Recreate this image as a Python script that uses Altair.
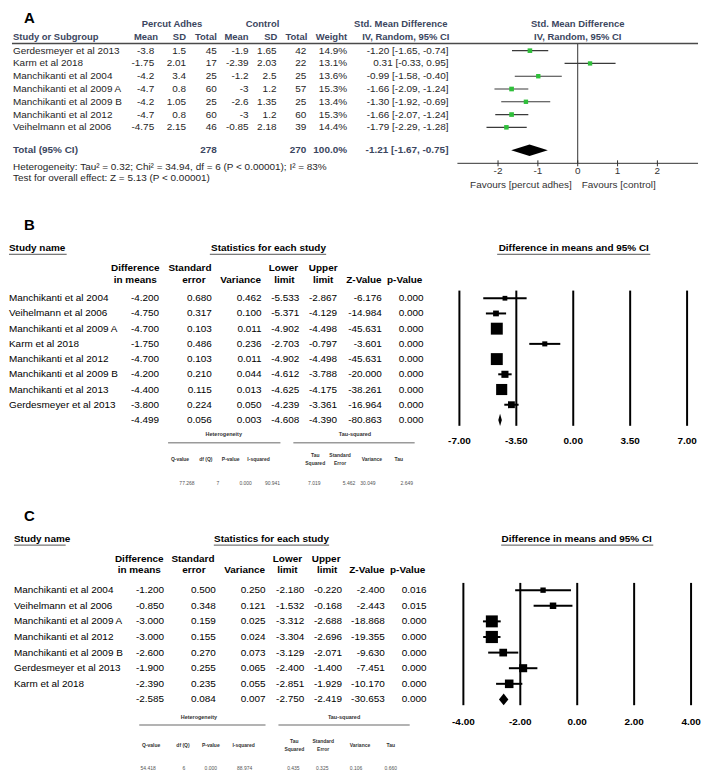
import altair as alt
import pandas as pd

FONT = "Liberation Sans"
W = 694

# ---------------- Panel A values ----------------
a_study = ["Gerdesmeyer et al 2013", "Karm et al 2018", "Manchikanti et al 2004",
           "Manchikanti et al 2009 A", "Manchikanti et al 2009 B", "Manchikanti et al 2012",
           "Veihelmann et al 2006"]
a_exp_mean = [-3.8, -1.75, -4.2, -4.7, -4.2, -4.7, -4.75]
a_exp_sd = [1.5, 2.01, 3.4, 0.8, 1.05, 0.8, 2.15]
a_exp_n = [45, 17, 25, 60, 25, 60, 46]
a_ctl_mean = [-1.9, -2.39, -1.2, -3, -2.6, -3, -0.85]
a_ctl_sd = [1.65, 2.03, 2.5, 1.2, 1.35, 1.2, 2.18]
a_ctl_n = [42, 22, 25, 57, 25, 60, 39]
a_weight = [14.9, 13.1, 13.6, 15.3, 13.4, 15.3, 14.4]
a_smd = [-1.20, 0.31, -0.99, -1.66, -1.30, -1.66, -1.79]
a_lo = [-1.65, -0.33, -1.58, -2.09, -1.92, -2.07, -2.29]
a_hi = [-0.74, 0.95, -0.40, -1.24, -0.69, -1.24, -1.28]
a_total_n = [278, 270]
a_total_weight = 100.0
a_total_smd = [-1.21, -1.67, -0.75]
a_ticks = [-2, -1, 0, 1, 2]
a_het = "Heterogeneity: Tau\u00b2 = 0.32; Chi\u00b2 = 34.94, df = 6 (P < 0.00001); I\u00b2 = 83%"
a_test = "Test for overall effect: Z = 5.13 (P < 0.00001)"

# ---------------- Panel B values ----------------
b_study = ["Manchikanti et al 2004", "Veihelmann et al 2006", "Manchikanti et al 2009 A",
           "Karm et al 2018", "Manchikanti et al 2012", "Manchikanti et al 2009 B",
           "Manchikanti et al 2013", "Gerdesmeyer et al 2013", ""]
b_diff = [-4.200, -4.750, -4.700, -1.750, -4.700, -4.200, -4.400, -3.800, -4.499]
b_se = [0.680, 0.317, 0.103, 0.486, 0.103, 0.210, 0.115, 0.224, 0.056]
b_var = [0.462, 0.100, 0.011, 0.236, 0.011, 0.044, 0.013, 0.050, 0.003]
b_lo = [-5.533, -5.371, -4.902, -2.703, -4.902, -4.612, -4.625, -4.239, -4.608]
b_hi = [-2.867, -4.129, -4.498, -0.797, -4.498, -3.788, -4.175, -3.361, -4.390]
b_z = [-6.176, -14.984, -45.631, -3.601, -45.631, -20.000, -38.261, -16.964, -80.863]
b_p = [0.000, 0.000, 0.000, 0.000, 0.000, 0.000, 0.000, 0.000, 0.000]
b_het = [77.268, 7, 0.000, 90.941]
b_tau = [7.019, 5.462, 30.049, 2.649]
b_ticks = [-7.0, -3.5, 0.0, 3.5, 7.0]

# ---------------- Panel C values ----------------
c_study = ["Manchikanti et al 2004", "Veihelmann et al 2006", "Manchikanti et al 2009 A",
           "Manchikanti et al 2012", "Manchikanti et al 2009 B", "Gerdesmeyer et al 2013",
           "Karm et al 2018", ""]
c_diff = [-1.200, -0.850, -3.000, -3.000, -2.600, -1.900, -2.390, -2.585]
c_se = [0.500, 0.348, 0.159, 0.155, 0.270, 0.255, 0.235, 0.084]
c_var = [0.250, 0.121, 0.025, 0.024, 0.073, 0.065, 0.055, 0.007]
c_lo = [-2.180, -1.532, -3.312, -3.304, -3.129, -2.400, -2.851, -2.750]
c_hi = [-0.220, -0.168, -2.688, -2.696, -2.071, -1.400, -1.929, -2.419]
c_z = [-2.400, -2.443, -18.868, -19.355, -9.630, -7.451, -10.170, -30.653]
c_p = [0.016, 0.015, 0.000, 0.000, 0.000, 0.000, 0.000, 0.000]
c_het = [54.418, 6, 0.000, 88.974]
c_tau = [0.435, 0.325, 0.106, 0.660]
c_ticks = [-4.0, -2.0, 0.0, 2.0, 4.0]

DUMMY = pd.DataFrame({"d": [0]})


def lab(text, x, y, top, size=10, bold=False, align="left", color="#000",
        baseline="middle"):
    return alt.Chart().mark_text(
        text=text, align=align, baseline=baseline, fontSize=size,
        fontWeight="bold" if bold else "normal", color=color, font=FONT
    ).encode(x=alt.value(x - 8), y=alt.value(y - top))


def hrule(x1, x2, y, top, color="#000", width=1.0):
    return alt.Chart().mark_rule(color=color, strokeWidth=width).encode(
        x=alt.value(x1 - 8), x2=alt.value(x2 - 8), y=alt.value(y - top))


def col(df, field, x, yscale, size=10, bold=False, align="right", color="#000"):
    return alt.Chart(df).mark_text(
        align=align, baseline="middle", fontSize=size,
        fontWeight="bold" if bold else "normal", color=color, font=FONT
    ).encode(x=alt.value(x - 8), y=alt.Y("row:Q", scale=yscale, axis=None),
             text=alt.Text(f"{field}:N"))


# ======================= PANEL A =======================
A_TOP = 8
A_HDR = "#3b4660"
A_TXT = "#262626"
a_row0, a_step = 46.7, 12.85
ay = alt.Scale(domain=[0, 10], range=[a_row0 - A_TOP, a_row0 - A_TOP + 10 * a_step],
               nice=False, zero=False)
ax = alt.Scale(domain=[-3.02, 3.02], range=[458 - 8, 700 - 8], nice=False, zero=False)

fmt_g = lambda v: f"{v:g}"
a_df = pd.DataFrame({
    "row": list(range(len(a_study))),
    "study": a_study,
    "em": [fmt_g(v) for v in a_exp_mean],
    "es": [fmt_g(v) for v in a_exp_sd],
    "en": [str(v) for v in a_exp_n],
    "cm": [fmt_g(v) for v in a_ctl_mean],
    "cs": [fmt_g(v) for v in a_ctl_sd],
    "cn": [str(v) for v in a_ctl_n],
    "wt": [f"{v:.1f}%" for v in a_weight],
    "ci": [f"{m:.2f} [{l:.2f}, {h:.2f}]" for m, l, h in zip(a_smd, a_lo, a_hi)],
    "smd": a_smd, "lo": a_lo, "hi": a_hi, "w": a_weight,
})
a_tot_row = 7.8
a_tot = pd.DataFrame({
    "row": [a_tot_row],
    "study": ["Total (95% CI)"],
    "en": [str(a_total_n[0])], "cn": [str(a_total_n[1])],
    "wt": [f"{a_total_weight:.1f}%"],
    "ci": [f"{a_total_smd[0]:.2f} [{a_total_smd[1]:.2f}, {a_total_smd[2]:.2f}]"],
})
h_a = 0.45
a_dia = pd.DataFrame({
    "x": [a_total_smd[1], a_total_smd[0], a_total_smd[2]],
    "y": [a_tot_row, a_tot_row - h_a, a_tot_row],
    "y2": [a_tot_row, a_tot_row + h_a, a_tot_row],
})
a_tick_df = pd.DataFrame({"t": a_ticks, "lab": [str(t) for t in a_ticks]})
a_zero = pd.DataFrame({"t": [0]})

A_layers = [
    lab("A", 22, 18.5, A_TOP, size=15, bold=True, baseline="alphabetic"),
    lab("Percut Adhes", 171, 19.5, A_TOP, size=9.5, bold=True, align="center", color=A_HDR),
    lab("Control", 262, 19.5, A_TOP, size=9.5, bold=True, align="center", color=A_HDR),
    lab("Std. Mean Difference", 448, 19.5, A_TOP, size=9.5, bold=True, align="right", color=A_HDR),
    lab("Std. Mean Difference", 579, 19.5, A_TOP, size=9.5, bold=True, align="center", color=A_HDR),
    lab("Study or Subgroup", 11, 32.5, A_TOP, size=9.5, bold=True, color=A_HDR),
    lab("Mean", 157, 32.5, A_TOP, size=9.5, bold=True, align="right", color=A_HDR),
    lab("SD", 185, 32.5, A_TOP, size=9.5, bold=True, align="right", color=A_HDR),
    lab("Total", 216, 32.5, A_TOP, size=9.5, bold=True, align="right", color=A_HDR),
    lab("Mean", 248, 32.5, A_TOP, size=9.5, bold=True, align="right", color=A_HDR),
    lab("SD", 277, 32.5, A_TOP, size=9.5, bold=True, align="right", color=A_HDR),
    lab("Total", 307, 32.5, A_TOP, size=9.5, bold=True, align="right", color=A_HDR),
    lab("Weight", 347, 32.5, A_TOP, size=9.5, bold=True, align="right", color=A_HDR),
    lab("IV, Random, 95% CI", 450, 32.5, A_TOP, size=9.5, bold=True, align="right", color=A_HDR),
    lab("IV, Random, 95% CI", 579, 32.5, A_TOP, size=9.5, bold=True, align="center", color=A_HDR),
    hrule(10, 700, 39.5, A_TOP, color="#4a4a4a", width=1.5),
    col(a_df, "study", 11, ay, align="left", color=A_TXT),
    col(a_df, "em", 153, ay, color=A_TXT),
    col(a_df, "es", 185, ay, color=A_TXT),
    col(a_df, "en", 216, ay, color=A_TXT),
    col(a_df, "cm", 248, ay, color=A_TXT),
    col(a_df, "cs", 276, ay, color=A_TXT),
    col(a_df, "cn", 306, ay, color=A_TXT),
    col(a_df, "wt", 347, ay, color=A_TXT),
    col(a_df, "ci", 449, ay, color=A_TXT),
    col(a_tot, "study", 11, ay, align="left", bold=True, color=A_HDR),
    col(a_tot, "en", 216, ay, bold=True, color=A_HDR),
    col(a_tot, "cn", 306, ay, bold=True, color=A_HDR),
    col(a_tot, "wt", 347, ay, bold=True, color=A_HDR),
    col(a_tot, "ci", 449, ay, bold=True, color=A_HDR),
    lab(a_het, 11, 163.3, A_TOP, color=A_TXT),
    lab(a_test, 11, 174.7, A_TOP, color=A_TXT),
    # forest A
    alt.Chart(a_zero).mark_rule(color="#333", strokeWidth=1).encode(
        x=alt.X("t:Q", scale=ax, axis=None), y=alt.value(40 - A_TOP), y2=alt.value(160 - A_TOP)),
    hrule(458, 700, 160, A_TOP, color="#333", width=1),
    alt.Chart(a_tick_df).mark_rule(color="#333", strokeWidth=1).encode(
        x=alt.X("t:Q", scale=ax, axis=None), y=alt.value(157 - A_TOP), y2=alt.value(163 - A_TOP)),
    alt.Chart(a_tick_df).mark_text(fontSize=10, color="#333", font=FONT, baseline="middle").encode(
        x=alt.X("t:Q", scale=ax, axis=None), y=alt.value(168 - A_TOP), text="lab:N"),
    lab("Favours [percut adhes]", 573, 182, A_TOP, color="#333", align="right"),
    lab("Favours [control]", 583, 182, A_TOP, color="#333"),
    alt.Chart(a_df).mark_rule(color="#3a3a3a", strokeWidth=1.2).encode(
        x=alt.X("lo:Q", scale=ax, axis=None), x2="hi:Q", y=alt.Y("row:Q", scale=ay, axis=None)),
    alt.Chart(a_df).mark_square(filled=True, color="#2fbf3a", opacity=1).encode(
        x=alt.X("smd:Q", scale=ax, axis=None), y=alt.Y("row:Q", scale=ay, axis=None),
        size=alt.Size("w:Q", scale=alt.Scale(domain=[0, 15.3], range=[0, 22]), legend=None)),
    alt.Chart(a_dia).mark_area(color="black", orient="vertical", opacity=1).encode(
        x=alt.X("x:Q", scale=ax, axis=None), y=alt.Y("y:Q", scale=ay, axis=None), y2="y2:Q"),
]
panel_a = alt.layer(*A_layers, data=DUMMY).properties(width=W, height=187)


# ======================= PANELS B / C =======================
def stats_panel(letter, L, study, diff, se, var, lo, hi, z, p, het, tau, ticks, size_range):
    top = L["top"]
    n = len(study)
    by = alt.Scale(domain=[0, 10], range=[L["row0"] - top, L["row0"] - top + 10 * L["step"]],
                   nice=False, zero=False)
    bx = alt.Scale(domain=[ticks[0], ticks[-1]], range=[L["fx"][0] - 8, L["fx"][1] - 8],
                   nice=False, zero=False)
    f3 = lambda v: f"{v:.3f}"
    df = pd.DataFrame({
        "row": list(range(n)), "study": study,
        "diff": [f3(v) for v in diff], "se": [f3(v) for v in se], "var": [f3(v) for v in var],
        "lo": [f3(v) for v in lo], "hi": [f3(v) for v in hi], "z": [f3(v) for v in z],
        "p": [f3(v) for v in p],
    })
    est = pd.DataFrame({
        "row": list(range(n - 1)), "est": diff[:-1], "lo": lo[:-1], "hi": hi[:-1],
        "w": [1.0 / v for v in var[:-1]],
    })
    wmax = max(est["w"])
    s = n - 1
    h = L["dia_h"]
    dia = pd.DataFrame({"x": [lo[-1], diff[-1], hi[-1]],
                        "y": [s, s - h, s], "y2": [s, s + h, s]})
    g1 = (L["grid"][0] - L["row0"]) / L["step"]
    g2 = (L["grid"][1] - L["row0"]) / L["step"]
    grid = pd.DataFrame({"t": ticks, "lab": [f"{t:.2f}" for t in ticks], "g1": g1, "g2": g2})

    layers = [lab(letter, L["letter"][0], L["letter"][1], top, size=15, bold=True,
                  baseline="alphabetic")]
    ty = L["title_y"]
    layers += [
        lab("Study name", L["study_x"], ty, top, bold=True),
        lab("Statistics for each study", L["stats_c"], ty, top, bold=True, align="center"),
        lab("Difference in means and 95% CI", L["fp_c"], ty, top, bold=True, align="center"),
        hrule(*L["study_ul"], L["ul_y"], top, color="#555", width=1),
        hrule(*L["stats_ul"], L["ul_y"], top, color="#555", width=1),
        hrule(*L["fp_ul"], L["ul_y"], top, color="#555", width=1),
    ]
    for text, x, line in L["hdr"]:
        layers.append(lab(text, x, L["h1_y"] if line == 1 else L["h2_y"], top, bold=True,
                          align="center"))
    cx = L["cols"]
    layers += [
        col(df, "study", L["study_x"], by, align="left"),
        col(df, "diff", cx[0], by), col(df, "se", cx[1], by), col(df, "var", cx[2], by),
        col(df, "lo", cx[3], by), col(df, "hi", cx[4], by), col(df, "z", cx[5], by),
        col(df, "p", cx[6], by),
    ]
    # footer
    layers += [
        lab("Heterogeneity", L["het_c"], L["het_y"], top, size=5.5, bold=True, align="center",
            color="#333"),
        lab("Tau-squared", L["tau_c"], L["het_y"], top, size=5.5, bold=True, align="center",
            color="#333"),
        hrule(*L["het_line"], L["line_y"], top, color="#9a9a9a", width=1.5),
        hrule(*L["tau_line"], L["line_y"], top, color="#9a9a9a", width=1.5),
    ]
    for text, x in L["sub"]:
        parts = text.split("|")
        if len(parts) == 1:
            layers.append(lab(text, x, L["sub_y"], top, size=5, bold=True, align="center",
                              color="#333"))
        else:
            layers.append(lab(parts[0], x, L["sub_y"] - 4, top, size=5, bold=True,
                              align="center", color="#333"))
            layers.append(lab(parts[1], x, L["sub_y"] + 4, top, size=5, bold=True,
                              align="center", color="#333"))
    vals = [f"{het[0]:.3f}", f"{het[1]:d}", f"{het[2]:.3f}", f"{het[3]:.3f}",
            f"{tau[0]:.3f}", f"{tau[1]:.3f}", f"{tau[2]:.3f}", f"{tau[3]:.3f}"]
    for text, x in zip(vals, L["vals_x"]):
        layers.append(lab(text, x, L["val_y"], top, size=5, align="center", color="#555"))
    # forest
    layers += [
        alt.Chart(grid).mark_rule(color="black", strokeWidth=2).encode(
            x=alt.X("t:Q", scale=bx, axis=None), y=alt.Y("g1:Q", scale=by, axis=None), y2="g2:Q"),
        alt.Chart(grid).mark_text(fontSize=10, fontWeight="bold", font=FONT, baseline="middle",
                                  color="black").encode(
            x=alt.X("t:Q", scale=bx, axis=None), y=alt.value(L["tick_y"] - top), text="lab:N"),
        alt.Chart(est).mark_rule(color="black", strokeWidth=2).encode(
            x=alt.X("lo:Q", scale=bx, axis=None), x2="hi:Q", y=alt.Y("row:Q", scale=by, axis=None)),
        alt.Chart(est).mark_square(filled=True, color="black", opacity=1).encode(
            x=alt.X("est:Q", scale=bx, axis=None), y=alt.Y("row:Q", scale=by, axis=None),
            size=alt.Size("w:Q", scale=alt.Scale(domain=[0, wmax], range=size_range), legend=None)),
        alt.Chart(dia).mark_area(color="black", orient="vertical", opacity=1).encode(
            x=alt.X("x:Q", scale=bx, axis=None), y=alt.Y("y:Q", scale=by, axis=None), y2="y2:Q"),
    ]
    return alt.layer(*layers, data=DUMMY).properties(width=W, height=L["height"])


L_B = dict(
    top=195, height=310, letter=(22, 227),
    title_y=245, study_x=7, study_ul=(7, 65), stats_c=268, stats_ul=(209, 326),
    fp_c=575, fp_ul=(498, 652), ul_y=251.5,
    h1_y=265, h2_y=277,
    hdr=[("Difference", 134, 1), ("in means", 134, 2), ("Standard", 189, 1), ("error", 193, 2),
         ("Variance", 240, 2), ("Lower", 283, 1), ("limit", 284, 2), ("Upper", 323, 1),
         ("limit", 323, 2), ("Z-Value", 364, 2), ("p-Value", 405, 2)],
    row0=295.7, step=15.3,
    cols=[158, 211, 261, 299, 337, 382, 424],
    fx=(460, 689), grid=(288, 424), tick_y=439.5, dia_h=0.4,
    het_y=432, het_c=223, het_line=(167, 280), tau_c=355, tau_line=(293, 415), line_y=441,
    sub_y=457, sub=[("Q-value", 179), ("df (Q)", 205), ("P-value", 230), ("I-squared", 258),
                    ("Tau|Squared", 315), ("Standard|Error", 340), ("Variance", 372), ("Tau", 399)],
    val_y=481.5, vals_x=[186, 217, 245, 272, 314, 349, 368, 407],
)

L_C = dict(
    top=505, height=269, letter=(22, 520),
    title_y=538, study_x=12, study_ul=(12, 64), stats_c=271, stats_ul=(213, 329),
    fp_c=578, fp_ul=(502, 655), ul_y=544,
    h1_y=558, h2_y=569.5,
    hdr=[("Difference", 138, 1), ("in means", 138, 2), ("Standard", 192, 1), ("error", 193, 2),
         ("Variance", 244, 2), ("Lower", 287, 1), ("limit", 287, 2), ("Upper", 326, 1),
         ("limit", 327, 2), ("Z-Value", 367, 2), ("p-Value", 408, 2)],
    row0=589.3, step=15.7,
    cols=[163, 215, 265, 304, 342, 385, 427],
    fx=(464, 693), grid=(582, 705), tick_y=722, dia_h=0.38,
    het_y=717, het_c=198, het_line=(138, 265), tau_c=344, tau_line=(278, 410), line_y=725,
    sub_y=745, sub=[("Q-value", 150), ("df (Q)", 182), ("P-value", 210), ("I-squared", 243),
                    ("Tau|Squared", 294), ("Standard|Error", 323), ("Variance", 360), ("Tau", 391)],
    val_y=768, vals_x=[147, 183, 210, 244, 293, 322, 356, 391],
)

panel_b = stats_panel("B", L_B, b_study, b_diff, b_se, b_var, b_lo, b_hi, b_z, b_p,
                      b_het, b_tau, b_ticks, [20, 144])
panel_c = stats_panel("C", L_C, c_study, c_diff, c_se, c_var, c_lo, c_hi, c_z, c_p,
                      c_het, c_tau, c_ticks, [16, 150])

chart = alt.vconcat(panel_a, panel_b, panel_c, spacing=0, bounds="flush").resolve_scale(
    x="independent", y="independent", size="independent"
).properties(padding=0).configure_view(stroke="transparent")

chart.save("out.html", embed_options={"renderer": "svg", "actions": False})
